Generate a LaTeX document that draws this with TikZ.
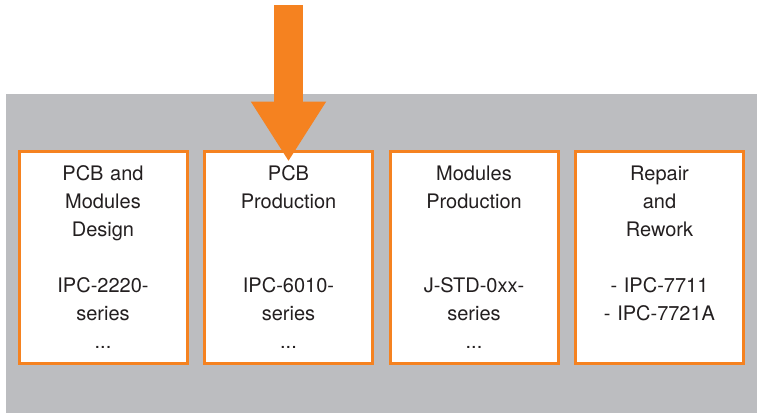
\documentclass[tikz,border=0pt]{standalone}
\usepackage{fontspec}
\setmainfont{TeX Gyre Heros}
\usepackage{tikz}
\usetikzlibrary{arrows.meta, positioning}
\definecolor{ipcorange}{HTML}{F58220}
\definecolor{ipcgray}{HTML}{BCBDC0}
\definecolor{ipctext}{HTML}{231F20}
\tikzstyle{stage} = [draw=ipcorange, line width=3pt, fill=white, rectangle, minimum width=168pt, minimum height=212pt, text width=160pt, align=center, text=ipctext, font=\fontsize{20}{28}\selectfont]
\tikzstyle{arrow} = [draw=ipcorange, line width=29pt, -{Triangle[width=71pt, length=60pt]}]

\begin{document}
\begin{tikzpicture}[x=1pt, y=1pt, node distance=14.5pt]
    \useasboundingbox (0,0) rectangle (757,-415);
    % Background
    \fill[ipcgray] (6,-94) rectangle (757,-413);

    % Stage boxes
    \node (design) [stage, anchor=north west] at (17.5,-149.5) {PCB and\\Modules\\Design\\~\\IPC-2220-\\series\\...};
    \node (pcb) [stage, right=of design] {PCB\\Production\\~\\~\\IPC-6010-\\series\\...};
    \node (modules) [stage, right=of pcb] {Modules\\Production\\~\\~\\J-STD-0xx-\\series\\...};
    \node (repair) [stage, right=of modules] {Repair\\and\\Rework\\~\\- IPC-7711\\- IPC-7721A\\~};

    % Connections
    \coordinate (src) at (pcb.north |- 0,-5);
    \draw [arrow] (src) -- ([yshift=-12pt]pcb.north);
\end{tikzpicture}
\end{document}
